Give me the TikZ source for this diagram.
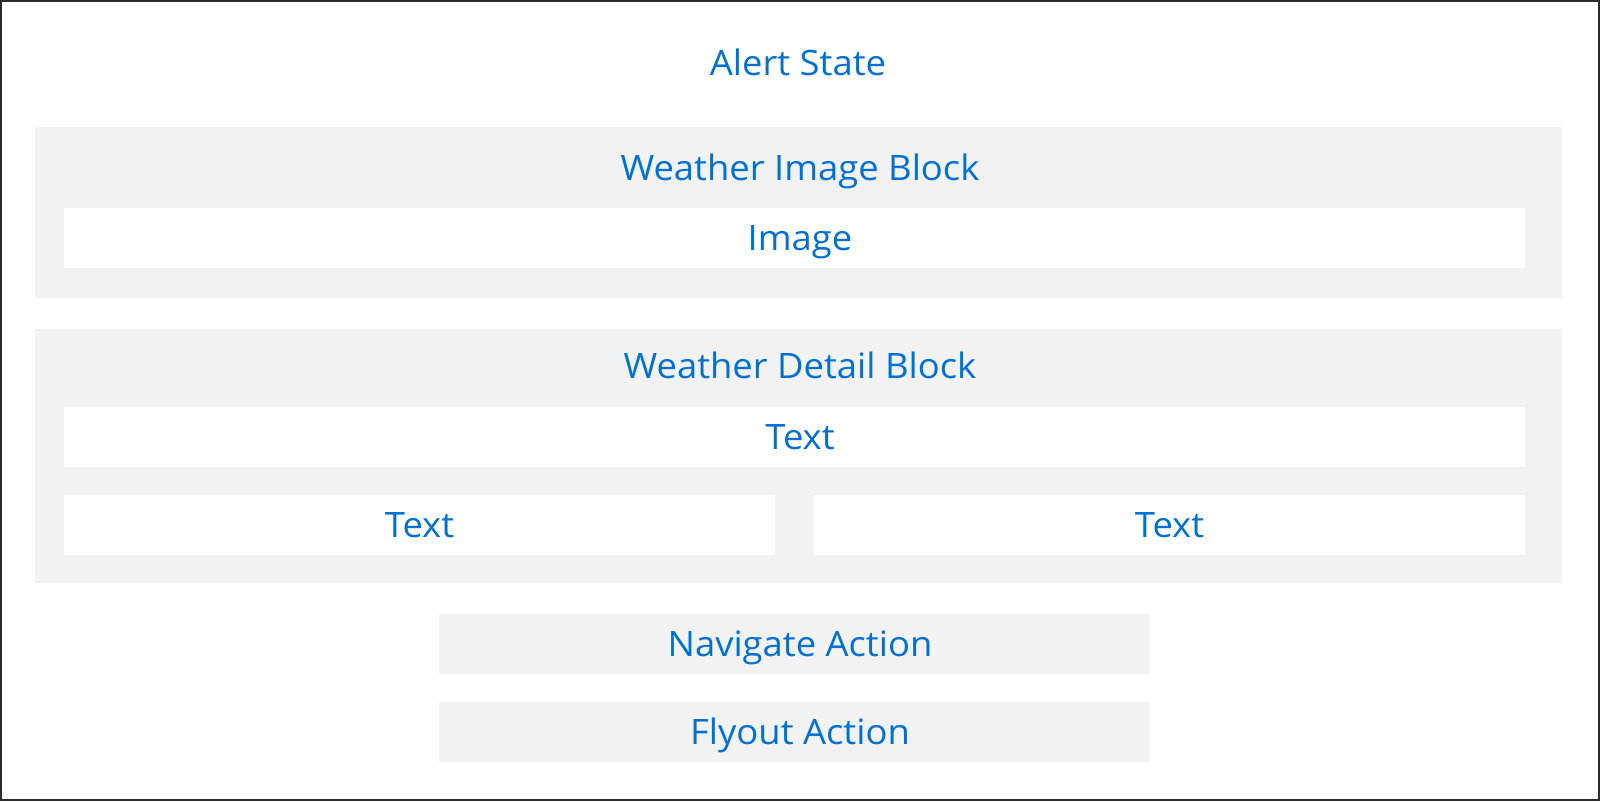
\documentclass[tikz,border=0pt]{standalone}
\usepackage{fontspec}
\setmainfont[FakeStretch=1.04]{Open Sans}
\definecolor{sfblue}{HTML}{0070D2}
\definecolor{sfgray}{HTML}{F3F2F2}
\definecolor{frame}{HTML}{2B2B2B}
\begin{document}
\begin{tikzpicture}[x=1pt,y=-1pt,
  graybox/.style={fill=sfgray,draw=none},
  whitebox/.style={fill=white,draw=none},
  lbl/.style={text=sfblue,font=\fontsize{35}{40}\selectfont,anchor=base,inner sep=0pt}]
\useasboundingbox (0,0) rectangle (1600,801);
\fill[white] (0,0) rectangle (1600,801);
\draw[frame,line width=2.2pt] (1.1,1.1) rectangle (1598.9,799.6);
% boxes
\path[graybox] (35,127) rectangle (1562,298);
\path[whitebox] (64,208) rectangle (1525,268);
\path[graybox] (35,329) rectangle (1562,583);
\path[whitebox] (64,407) rectangle (1525,467);
\path[whitebox] (64,495) rectangle (775,555);
\path[whitebox] (814,495) rectangle (1525,555);
\path[graybox] (439,614) rectangle (1150,674);
\path[graybox] (439,702) rectangle (1150,762);
% labels
\node[lbl] (alert) at (798,75) {Alert State};
\node[lbl] (wib) at (800,180) {Weather Image Block};
\node[lbl] (img) at (800,250.5) {Image};
\node[lbl] (wdb) at (800,378.5) {Weather Detail Block};
\node[lbl] (t1) at (800,449.5) {Text};
\node[lbl] (t2) at (419.5,537.5) {Text};
\node[lbl] (t3) at (1169.5,537.5) {Text};
\node[lbl] (nav) at (800,656.5) {Navigate Action};
\node[lbl] (fly) at (800,744.5) {Flyout Action};
\end{tikzpicture}
\end{document}
